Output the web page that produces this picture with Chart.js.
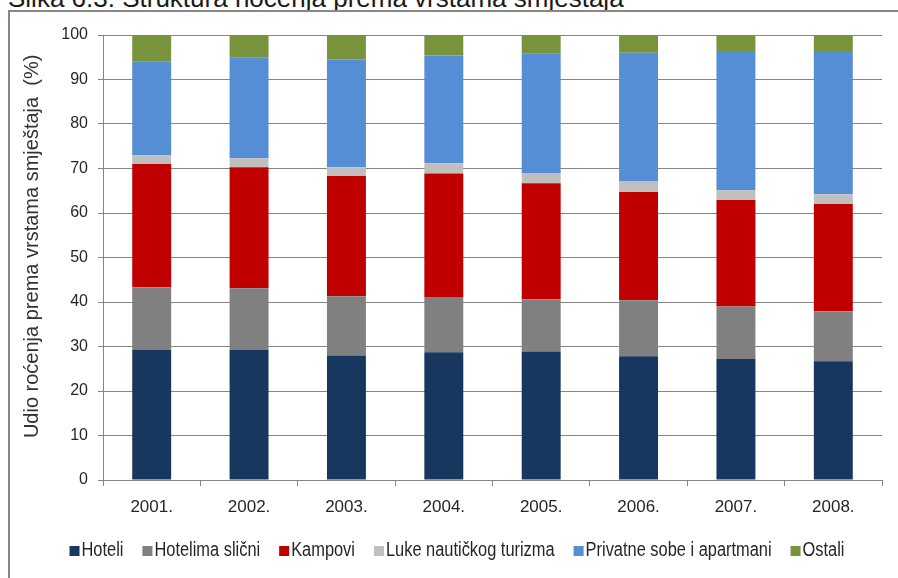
<!DOCTYPE html>
<html>
<head>
<meta charset="utf-8">
<script src="https://cdn.jsdelivr.net/npm/chart.js@4.4.1/dist/chart.umd.min.js"></script>
<style>
  html, body { margin: 0; padding: 0; background: #fff; overflow: hidden; }
  #wrap { position: relative; width: 898px; height: 578px; }
  #frame {
    position: absolute; left: 8px; top: 10px; width: 1000px; height: 1000px;
    border-left: 2px solid #878787; border-top: 2px solid #878787;
  }
  #title {
    position: absolute; left: 8px; top: -17px; line-height: 26px;
    font: 26px "Liberation Sans", Arial, sans-serif; color: #1a1a1a; white-space: nowrap;
  }
  canvas { position: absolute; left: 0; top: 0; }
</style>
</head>
<body>
<div id="wrap">
  <div id="title">Slika 6.3. Struktura noćenja prema vrstama smještaja</div>
  <div id="frame"></div>
  <canvas id="chart" width="898" height="578"></canvas>
</div>
<script>
// Udio noćenja (%) po vrsti smještaja
const years = ['2001.', '2002.', '2003.', '2004.', '2005.', '2006.', '2007.', '2008.']
const hoteli = [29.2, 29.2, 28.0, 28.7, 28.9, 27.8, 27.2, 26.7]
const hotelimaSlicni = [14.1, 13.9, 13.3, 12.4, 11.7, 12.6, 11.8, 11.2]
const kampovi = [27.7, 27.2, 27.0, 27.8, 26.1, 24.3, 23.9, 24.1]
const lukeNautickog = [2.0, 2.0, 2.0, 2.3, 2.2, 2.5, 2.2, 2.2]
const privatneSobe = [21.0, 22.6, 24.2, 24.2, 26.9, 28.8, 31.3, 32.2]
const ostali = [6.0, 5.1, 5.5, 4.6, 4.2, 4.0, 3.6, 3.6]
const yTicks = [0, 10, 20, 30, 40, 50, 60, 70, 80, 90, 100]

const sans = "'Liberation Sans', Arial, sans-serif"
const gridColor = '#868686'
const textColor = '#262626'

const series = [
  { label: 'Hoteli', data: hoteli, color: '#17375E' },
  { label: 'Hotelima slični', data: hotelimaSlicni, color: '#808080' },
  { label: 'Kampovi', data: kampovi, color: '#C00000' },
  { label: 'Luke nautičkog turizma', data: lukeNautickog, color: '#BFBFBF' },
  { label: 'Privatne sobe i apartmani', data: privatneSobe, color: '#558ED5' },
  { label: 'Ostali', data: ostali, color: '#77933C' }
]

// legend in a condensed face (no Arial Narrow here, so squeeze Liberation Sans)
const narrowLegend = {
  id: 'narrowLegend',
  afterDraw(chart) {
    const ctx = chart.ctx
    const squeeze = 0.82
    const box = 10, gap = 2, spacing = 19
    const centerX = 457, centerY = 550
    ctx.save()
    ctx.font = '20px ' + sans
    const items = chart.data.datasets.map(ds => ({
      text: ds.label,
      color: ds.backgroundColor,
      w: ctx.measureText(ds.label).width * squeeze
    }))
    const total = items.reduce((sum, it) => sum + box + gap + it.w, 0) + spacing * (items.length - 1)
    let x = centerX - total / 2
    ctx.textBaseline = 'middle'
    ctx.textAlign = 'left'
    items.forEach(it => {
      ctx.fillStyle = it.color
      ctx.fillRect(x, centerY - box / 2 + 1, box, box)
      ctx.save()
      ctx.translate(x + box + gap, centerY)
      ctx.scale(squeeze, 1)
      ctx.fillStyle = textColor
      ctx.fillText(it.text, 0, 0)
      ctx.restore()
      x += box + gap + it.w + spacing
    })
    ctx.restore()
  }
}

const ctx = document.getElementById('chart').getContext('2d')

new Chart(ctx, {
  type: 'bar',
  data: {
    labels: years,
    datasets: series.map(s => ({
      label: s.label,
      data: s.data,
      backgroundColor: s.color,
      borderWidth: 0,
      barPercentage: 0.4,
      categoryPercentage: 1
    }))
  },
  plugins: [narrowLegend],
  options: {
    responsive: false,
    animation: false,
    layout: {
      padding: { top: 35, left: 32, right: 16, bottom: 45 }
    },
    plugins: {
      tooltip: { enabled: false },
      legend: { display: false }
    },
    scales: {
      x: {
        stacked: true,
        afterFit: (scale) => { scale.height = 53 },
        border: { color: gridColor, width: 1 },
        grid: {
          display: true,
          drawOnChartArea: false,
          offset: true,
          tickLength: 6,
          color: gridColor
        },
        ticks: {
          color: textColor,
          padding: 11,
          maxRotation: 0,
          font: { family: sans, size: 17 }
        }
      },
      y: {
        stacked: true,
        min: 0,
        max: 100,
        afterFit: (scale) => { scale.width = 71 },
        afterBuildTicks: (scale) => { scale.ticks = yTicks.map(v => ({ value: v })) },
        border: { color: gridColor, width: 1 },
        grid: { color: gridColor, tickLength: 5 },
        ticks: {
          color: textColor,
          padding: 10,
          font: { family: sans, size: 16 }
        },
        title: {
          display: true,
          text: '    Udio roćenja prema vrstama smještaja  (%)',
          color: '#333333',
          padding: { top: -10, bottom: 0 },
          font: { family: sans, size: 20, lineHeight: 1 }
        }
      }
    }
  }
})
</script>
</body>
</html>
